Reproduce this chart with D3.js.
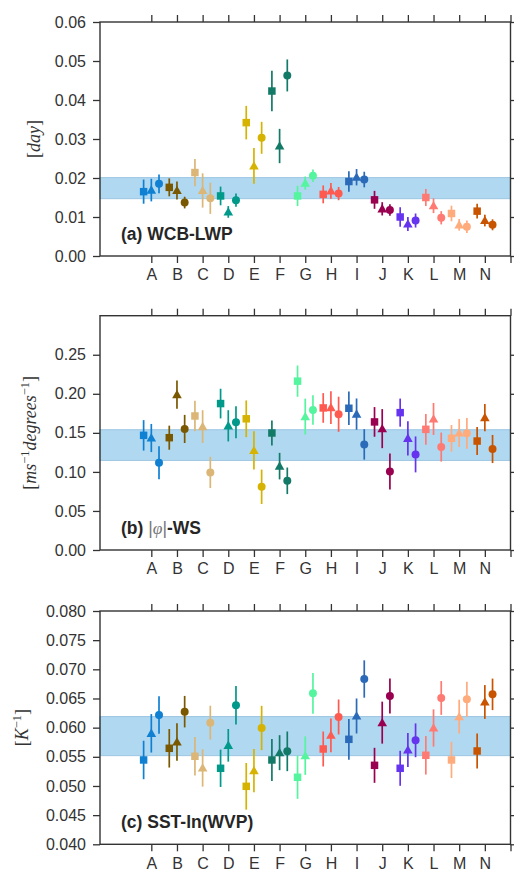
<!DOCTYPE html>
<html>
<head>
<meta charset="utf-8">
<script src="https://cdn.jsdelivr.net/npm/d3@7"></script>
<style>
  body { margin: 0; background: #fff; }
  svg { display: block; font-family: "Liberation Sans", Arial, sans-serif; }
  .axis text { font-size: 16px; fill: #333; }
  .axis path, .axis line { stroke: #333; stroke-width: 1.3; }
</style>
</head>
<body>
<svg id="chart" width="514" height="873"></svg>
<script>
const categories = ["A", "B", "C", "D", "E", "F", "G", "H", "I", "J", "K", "L", "M", "N"];
const colors = ["#0f80d2", "#7a5800", "#dbb677", "#00998a", "#d6b300", "#137a68", "#55f5a0",
                "#ff5a50", "#2a6ab8", "#99004f", "#6633ee", "#ff7a72", "#ffab7c", "#c85400"];

// (a) WCB-LWP
const lwpSq      = [0.0165, 0.0176, 0.0214, 0.0154, 0.0342, 0.0423, 0.0154, 0.0158, 0.0191, 0.0144, 0.0100, 0.0150, 0.0109, 0.0115];
const lwpSqErr   = [0.0031, 0.0023, 0.0035, 0.0024, 0.0043, 0.0052, 0.0026, 0.0023, 0.0026, 0.0023, 0.0025, 0.0022, 0.0020, 0.0019];
const lwpTri     = [0.0169, 0.0168, 0.0168, 0.0113, 0.0231, 0.0282, 0.0187, 0.0167, 0.0202, 0.0121, 0.0082, 0.0129, 0.0080, 0.0091];
const lwpTriErr  = [0.0029, 0.0023, 0.0044, 0.0015, 0.0046, 0.0044, 0.0017, 0.0020, 0.0021, 0.0017, 0.0018, 0.0019, 0.0015, 0.0015];
const lwpCirc    = [0.0185, 0.0137, 0.0148, 0.0143, 0.0303, 0.0463, 0.0206, 0.0160, 0.0196, 0.0118, 0.0091, 0.0098, 0.0075, 0.0080];
const lwpCircErr = [0.0024, 0.0015, 0.0040, 0.0017, 0.0041, 0.0041, 0.0016, 0.0017, 0.0020, 0.0015, 0.0018, 0.0017, 0.0016, 0.0014];
const lwpBand    = [0.0147, 0.0201];
const lwpTicks   = [0, 0.01, 0.02, 0.03, 0.04, 0.05, 0.06];

// (b) |phi|-WS
const wsSq      = [0.1468, 0.1438, 0.1716, 0.1875, 0.1680, 0.1498, 0.2162, 0.1819, 0.1815, 0.1640, 0.1759, 0.1545, 0.1430, 0.1395];
const wsSqErr   = [0.0195, 0.0154, 0.0195, 0.0190, 0.0235, 0.0160, 0.0200, 0.0190, 0.0214, 0.0190, 0.0180, 0.0197, 0.0170, 0.0180];
const wsTri     = [0.1434, 0.1990, 0.1580, 0.1590, 0.1275, 0.1074, 0.1708, 0.1823, 0.1740, 0.1554, 0.1430, 0.1678, 0.1498, 0.1695];
const wsTriErr  = [0.0180, 0.0180, 0.0210, 0.0200, 0.0244, 0.0170, 0.0230, 0.0210, 0.0200, 0.0250, 0.0220, 0.0205, 0.0180, 0.0175];
const wsCirc    = [0.1117, 0.1550, 0.0993, 0.1635, 0.0809, 0.0886, 0.1793, 0.1738, 0.1352, 0.1006, 0.1224, 0.1318, 0.1494, 0.1293];
const wsCircErr = [0.0210, 0.0180, 0.0200, 0.0205, 0.0220, 0.0170, 0.0190, 0.0225, 0.0195, 0.0230, 0.0230, 0.0186, 0.0197, 0.0180];
const wsBand    = [0.1147, 0.1540];
const wsTicks   = [0, 0.05, 0.10, 0.15, 0.20, 0.25];

// (c) SST-ln(WVP)
const wvpSq      = [0.05446, 0.05646, 0.05509, 0.05303, 0.04994, 0.05446, 0.05149, 0.05634, 0.05800, 0.05354, 0.05303, 0.05526, 0.05446, 0.05600];
const wvpSqErr   = [0.0033, 0.0033, 0.0033, 0.0032, 0.0040, 0.0036, 0.0037, 0.0030, 0.0035, 0.0030, 0.0030, 0.0033, 0.0031, 0.0030];
const wvpTri     = [0.05903, 0.05754, 0.05309, 0.05697, 0.05263, 0.05571, 0.05520, 0.05869, 0.06200, 0.06086, 0.05617, 0.05994, 0.06189, 0.06440];
const wvpTriErr  = [0.0033, 0.0032, 0.0032, 0.0028, 0.0037, 0.0030, 0.0033, 0.0029, 0.0030, 0.0036, 0.0029, 0.0032, 0.0029, 0.0029];
const wvpCirc    = [0.06217, 0.06274, 0.06086, 0.06383, 0.05994, 0.05594, 0.06589, 0.06183, 0.06834, 0.06543, 0.05783, 0.06509, 0.06486, 0.06571];
const wvpCircErr = [0.0032, 0.0027, 0.0029, 0.0033, 0.0038, 0.0034, 0.0035, 0.0030, 0.0032, 0.0030, 0.0029, 0.0029, 0.0030, 0.0027];
const wvpBand    = [0.0552, 0.0619];
const wvpTicks   = [0.040, 0.045, 0.050, 0.055, 0.060, 0.065, 0.070, 0.075, 0.080];

const svg = d3.select("#chart");
const left = 100, right = 510.5;
const x = d3.scaleLinear().domain([0, 16]).range([left, right]);
const offsets = { sq: -0.3, tri: 0, circ: 0.3 };
const symbols = {
    sq: d3.symbol().type(d3.symbolSquare).size(56),
    tri: d3.symbol().type(d3.symbolTriangle).size(40),
    circ: d3.symbol().type(d3.symbolCircle).size(50)
};

function drawPanel(cfg) {
    const y = d3.scaleLinear().domain(cfg.domain).range([cfg.bottom, cfg.top]);
    const g = svg.append("g");

    // shaded band
    g.append("rect")
        .attr("x", left).attr("width", right - left)
        .attr("y", y(cfg.band[1]))
        .attr("height", y(cfg.band[0]) - y(cfg.band[1]))
        .attr("fill", "#3c9ddc").attr("fill-opacity", 0.4)
        .attr("stroke", "#9cc6e2").attr("stroke-width", 1);

    const series = [
        { key: "sq", vals: cfg.sq, errs: cfg.sqErr },
        { key: "tri", vals: cfg.tri, errs: cfg.triErr },
        { key: "circ", vals: cfg.circ, errs: cfg.circErr }
    ];
    const pts = [];
    categories.forEach((c, i) => {
        series.forEach(s => {
            pts.push({ i: i, key: s.key, v: s.vals[i], e: s.errs[i] });
        });
    });

    const marks = g.selectAll("g.pt").data(pts).join("g").attr("class", "pt")
        .attr("transform", d => `translate(${x(i2pos(d.i) + offsets[d.key])},0)`);
    marks.append("line")
        .attr("y1", d => y(d.v - d.e)).attr("y2", d => y(d.v + d.e))
        .attr("stroke", d => colors[d.i]).attr("stroke-width", 1.7);
    marks.append("path")
        .attr("d", d => symbols[d.key]())
        .attr("transform", d => `translate(0,${y(d.v) + (d.key === "tri" ? 0.8 : 0)})`)
        .attr("fill", d => colors[d.i]);

    // axes on all four sides, ticks outward
    const xt = d3.range(2, 17);
    g.append("g").attr("class", "axis")
        .attr("transform", `translate(0,${cfg.bottom})`)
        .call(d3.axisBottom(x).tickValues(xt).tickSize(7).tickSizeOuter(0).tickPadding(6)
            .tickFormat(p => categories[p - 2] || ""));
    g.append("g").attr("class", "axis")
        .attr("transform", `translate(0,${cfg.top})`)
        .call(d3.axisTop(x).tickValues(xt).tickSize(7).tickSizeOuter(0).tickFormat(""));
    g.append("g").attr("class", "axis")
        .attr("transform", `translate(${left},0)`)
        .call(d3.axisLeft(y).tickValues(cfg.ticks).tickSize(7).tickSizeOuter(0).tickPadding(7)
            .tickFormat(d3.format(cfg.fmt)));
    g.append("g").attr("class", "axis")
        .attr("transform", `translate(${right},0)`)
        .call(d3.axisRight(y).tickValues(cfg.ticks).tickSize(7).tickSizeOuter(0).tickFormat(""));
    g.selectAll(".axis .domain").remove();

    g.append("rect")
        .attr("x", left).attr("y", cfg.top)
        .attr("width", right - left).attr("height", cfg.bottom - cfg.top)
        .attr("fill", "none").attr("stroke", "#333").attr("stroke-width", 1.4);

    // panel title
    const t = g.append("text")
        .attr("x", 121).attr("y", cfg.bottom - 16)
        .attr("font-size", 17.5).attr("font-weight", "bold").attr("fill", "#262626");
    cfg.title(t);

    // y label
    const yl = g.append("text")
        .attr("transform", `translate(${cfg.labelX},${(cfg.top + cfg.bottom) / 2 + cfg.labelDy}) rotate(-90)`)
        .attr("text-anchor", "middle")
        .attr("font-family", "'Liberation Serif', 'DejaVu Serif', serif")
        .attr("font-size", 18).attr("fill", "#333");
    cfg.ylabel(yl);
}

function i2pos(i) { return i + 2; }

function supText(sel, parts) {
    parts.forEach(p => {
        const ts = sel.append("tspan").text(p.t);
        if (p.it) ts.attr("font-style", "italic");
        if (p.sup) ts.attr("font-size", 12.5).attr("baseline-shift", "super");
    });
}

drawPanel({
    top: 22, bottom: 256, domain: [0, 0.06], ticks: lwpTicks, fmt: ".2f",
    band: lwpBand, sq: lwpSq, sqErr: lwpSqErr, tri: lwpTri, triErr: lwpTriErr, circ: lwpCirc, circErr: lwpCircErr,
    labelX: 40, labelDy: 0,
    title: t => t.text("(a) WCB-LWP"),
    ylabel: t => supText(t, [{ t: "[" }, { t: "day", it: true }, { t: "]" }])
});

drawPanel({
    top: 315.7, bottom: 550, domain: [0, 0.3], ticks: wsTicks, fmt: ".2f",
    band: wsBand, sq: wsSq, sqErr: wsSqErr, tri: wsTri, triErr: wsTriErr, circ: wsCirc, circErr: wsCircErr,
    labelX: 36, labelDy: 0,
    title: t => {
        t.append("tspan").text("(b) ");
        t.append("tspan").text("|").attr("font-weight", "normal").attr("fill", "#777");
        t.append("tspan").text("φ").attr("font-weight", "normal").attr("font-style", "italic")
            .attr("font-family", "'Liberation Serif', serif").attr("fill", "#777");
        t.append("tspan").text("|").attr("font-weight", "normal").attr("fill", "#777");
        t.append("tspan").text("-WS");
    },
    ylabel: t => supText(t, [
        { t: "[" }, { t: "ms", it: true }, { t: "−1", sup: true },
        { t: "degrees", it: true }, { t: "−1", sup: true }, { t: "]" }
    ])
});

drawPanel({
    top: 611, bottom: 844.3, domain: [0.04, 0.08], ticks: wvpTicks, fmt: ".3f",
    band: wvpBand, sq: wvpSq, sqErr: wvpSqErr, tri: wvpTri, triErr: wvpTriErr, circ: wvpCirc, circErr: wvpCircErr,
    labelX: 28, labelDy: 0,
    title: t => t.text("(c) SST-ln(WVP)"),
    ylabel: t => supText(t, [{ t: "[" }, { t: "K", it: true }, { t: "−1", sup: true }, { t: "]" }])
});
</script>
</body>
</html>
